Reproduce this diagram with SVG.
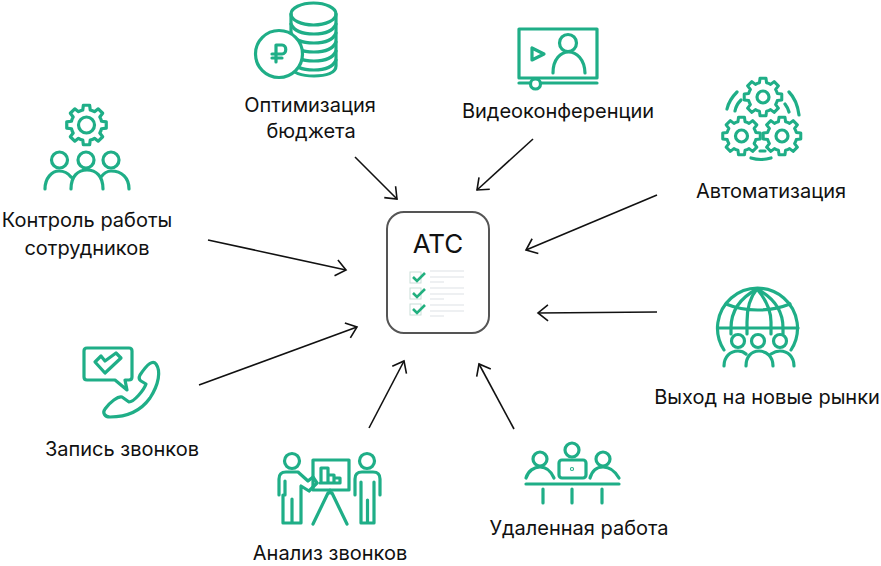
<svg xmlns="http://www.w3.org/2000/svg" xmlns:xlink="http://www.w3.org/1999/xlink" width="881" height="566" viewBox="0 0 881 566">
<style>
.i{fill:none;stroke:#1fae87;stroke-width:3.2;stroke-linecap:round;stroke-linejoin:round}
.w{fill:#fff}
.t{font-family:Inter,"Liberation Sans",sans-serif;font-size:20px;fill:#111;text-anchor:middle}
.c{fill:none;stroke:#111;stroke-width:1.6;marker-end:url(#a)}
.l{fill:none;stroke:#eef0f2;stroke-width:2}
.b{fill:#fff;stroke:#c9ddd8;stroke-width:1}
.k{fill:none;stroke:#22b07f;stroke-width:2.6}
</style>
<defs>
<marker id="a" markerUnits="userSpaceOnUse" markerWidth="22" markerHeight="22" refX="16" refY="11" orient="auto"><path d="M6 3 L16 11 L6 19" fill="none" stroke="#111" stroke-width="1.6"/></marker>
<path id="g" d="M15.04-3.75L19.75-3.13 19.75 3.13 15.04 3.75A15.5 15.5 0 0 1 13.29 7.98L16.18 11.75 11.75 16.18 7.98 13.29A15.5 15.5 0 0 1 3.75 15.04L3.13 19.75-3.13 19.75-3.75 15.04A15.5 15.5 0 0 1-7.98 13.29L-11.75 16.18-16.18 11.75-13.29 7.98A15.5 15.5 0 0 1-15.04 3.75L-19.75 3.13-19.75-3.13-15.04-3.75A15.5 15.5 0 0 1-13.29-7.98L-16.18-11.75-11.75-16.18-7.98-13.29A15.5 15.5 0 0 1-3.75-15.04L-3.13-19.75 3.13-19.75 3.75-15.04A15.5 15.5 0 0 1 7.98-13.29L11.75-16.18 16.18-11.75 13.29-7.98A15.5 15.5 0 0 1 15.04-3.75Z"/>
</defs>
<rect width="881" height="566" fill="#fff"/>

<g id="connectors">
<path class="c" d="M208 240L346 270"/>
<path class="c" d="M355 157L397 199"/>
<path class="c" d="M533 139L477 190"/>
<path class="c" d="M657 195L526 250"/>
<path class="c" d="M657 312L538 313"/>
<path class="c" d="M199 385L357 327"/>
<path class="c" d="M369 428L404 361"/>
<path class="c" d="M514 429L479 364"/>
</g>

<g id="atc">
<rect x="387" y="212" width="102" height="121" rx="17" fill="#fff" stroke="#555" stroke-width="2"/>
<text x="438" y="253" style="font-family:Inter,'Liberation Sans',sans-serif;font-size:26px;fill:#111;text-anchor:middle">АТС</text>
<path class="l" d="M430 271H464M430 277H464M430 282H444M430 288H464M430 294H464M430 299H444M430 305H464M430 311H464M430 316H444"/>
<rect class="b" x="410" y="272" width="11" height="11"/>
<rect class="b" x="410" y="288" width="11" height="11"/>
<rect class="b" x="410" y="304" width="11" height="11"/>
<path class="k" d="M413 277L417 281 425 273M413 293L417 297 425 289M413 309L417 313 425 305"/>
</g>

<g id="byudzhet">
<path class="i" d="M291 14V66C291 73 302 76 314 76S336 73 336 66V14"/>
<ellipse class="i" cx="313.500" cy="14" rx="22.500" ry="11"/>
<path class="i" d="M291 24C294 31 303 34 314 34S333 31 336 24M291 33C294 40 303 43 314 43S333 40 336 33M291 42C294 49 303 52 314 52S333 49 336 42M291 51C294 58 303 61 314 61S333 58 336 51M291 60C294 67 303 70 314 70S333 67 336 60"/>
<circle class="i w" cx="279" cy="54" r="23.500"/>
<path class="i" d="M276 62V45H282C287 45 287 54 282 54H272M272 58H282"/>
<text class="t" x="310" y="112">Оптимизация</text>
<text class="t" x="311" y="138">бюджета</text>
</g>

<g id="video">
<rect class="i" x="519" y="29" width="78" height="49"/>
<path class="i" d="M532 48V60L544 54Z"/>
<circle class="i" cx="568" cy="43" r="8.500"/>
<path class="i" d="M553 73C553 45 584 45 585 73"/>
<path class="i" d="M519 83H597"/>
<circle class="i w" cx="535.500" cy="84" r="5"/>
<text class="t" x="558" y="118">Видеоконференции</text>
</g>

<g id="avtomat">
<g class="i">
<use xlink:href="#g" transform="translate(763 97) scale(.95)"/>
<use xlink:href="#g" transform="translate(741.500 136) scale(.95)"/>
<use xlink:href="#g" transform="translate(782 136) scale(.95)"/>
<circle cx="763" cy="97" r="6"/><circle cx="741.500" cy="136" r="6"/><circle cx="782" cy="136" r="6"/>
<path d="M727 109Q729 100 737 92M735 111Q736 105 741 100M789 92Q797 100 799 115M785 104Q788 108 789 112M751 158Q761 161 771 158M760 151H765"/>
</g>
<text class="t" x="771" y="198">Автоматизация</text>
</g>

<g id="kontrol">
<g class="i">
<use xlink:href="#g" transform="translate(86.500 125)"/>
<circle cx="86.500" cy="125" r="8"/>
<circle cx="59.500" cy="160" r="8"/><circle cx="86" cy="160" r="8"/><circle cx="111" cy="160" r="8"/>
<path d="M45 189C45 178 52 171 59 171C64 171 68 173 71 177M71 189C71 176 78 170 87 170S103 176 103 189M129 189C129 178 122 171 111 171C107 171 104 173 101 177"/>
</g>
<text class="t" x="87" y="227">Контроль работы</text>
<text class="t" x="87" y="255">сотрудников</text>
</g>

<g id="rynki">
<g class="i">
<path d="M724 350A40 40 0 1 1 791 350"/>
<path d="M718 328H798M726 304C745 312 770 312 790 304"/>
<path d="M731 334V328C731 310 742 297 757 289C772 297 783 310 783 328V334"/>
<path d="M747 334V322C747 307 751 296 757 289C763 296 771 307 771 322V334"/>
<circle class="w" cx="738" cy="341" r="6.500"/><circle class="w" cx="758" cy="341" r="6.500"/><circle class="w" cx="780" cy="341" r="6.500"/>
<path d="M724 366C724 357 730 351 738 351C741 351 744 352 746 354M746 366C746 357 751 351 759 351S773 357 773 366M794 366C794 357 788 351 780 351C777 351 774 352 771 354"/>
</g>
<text class="t" x="767" y="404">Выход на новые рынки</text>
</g>

<g id="zapis">
<g class="i">
<path d="M87 348H129Q132 348 132 351V377Q132 380 129 380H125L127 390 115 380H87Q84 380 84 377V351Q84 348 87 348Z"/>
<path d="M95 362L101 356 105 361 116 353 121 358 105 373Z"/>
<path d="M140 375C148 363 153 360 156 364C161 371 159 384 150 398C140 412 125 417 110 417C105 417 102 413 105 409C110 402 118 396 122 397L129 402C134 402 144 390 146 384L141 381Q138 379 140 375Z"/>
</g>
<text class="t" x="122" y="456">Запись звонков</text>
</g>

<g id="analiz">
<g class="i">
<circle cx="292" cy="461" r="7.500"/><circle cx="367" cy="461" r="7.500"/>
<rect x="313" y="460" width="36" height="30"/>
<path d="M321 483V468H328V483M328 475H334V483M334 478H340V483H320"/>
<path d="M279 495V479Q279 472 286 472H298L308 481 313 477 317 483 309 491 301 486V523H292V499M292 523H283V495M285 481V495"/>
<path d="M330 490V493M328 493L313 524M332 493L347 524"/>
<path d="M355 495V479Q355 472 362 472H373Q380 472 380 479V495M361 482V523H367.500V500M367.500 523H374V482"/>
</g>
<text class="t" x="330" y="560">Анализ звонков</text>
</g>

<g id="udalen">
<g class="i">
<circle cx="572" cy="450" r="7"/>
<circle cx="540" cy="459" r="7"/><circle cx="603" cy="459" r="7"/>
<rect x="559" y="460" width="27" height="18" rx="3"/>
<path d="M526 478C528 471 534 467 540 467S551 471 554 478M590 478C592 471 597 467 603 467S615 471 619 478"/>
<path d="M526 484H619M543 489V503M572 489V503M602 489V503"/>
<circle cx="572" cy="469" r=".5"/>
</g>
<text class="t" x="579" y="535">Удаленная работа</text>
</g>
</svg>
